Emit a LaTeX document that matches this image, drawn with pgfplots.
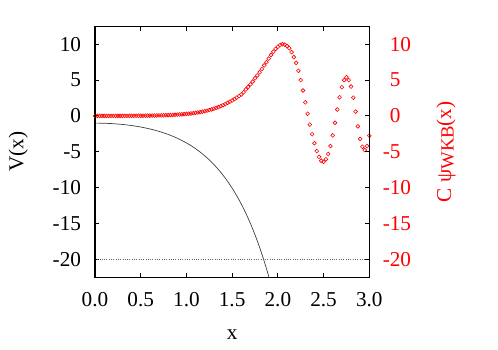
\documentclass[border=0pt]{standalone}
\usepackage{fontspec}
\setmainfont{Liberation Serif}
\usepackage{graphicx}
\usepackage{pgfplots}
\pgfplotsset{compat=1.18}

% potential V(x)
\pgfplotstableread{
x V
0.00 -1.000
0.05 -1.005
0.10 -1.020
0.15 -1.045
0.20 -1.081
0.25 -1.128
0.30 -1.185
0.35 -1.255
0.40 -1.337
0.45 -1.433
0.50 -1.543
0.55 -1.669
0.60 -1.811
0.65 -1.971
0.70 -2.151
0.75 -2.352
0.80 -2.577
0.85 -2.828
0.90 -3.107
0.95 -3.418
1.00 -3.762
1.05 -4.144
1.10 -4.568
1.15 -5.037
1.20 -5.557
1.25 -6.132
1.30 -6.769
1.35 -7.473
1.40 -8.253
1.45 -9.115
1.50 -10.068
1.55 -11.122
1.60 -12.287
1.65 -13.575
1.70 -14.999
1.75 -16.573
1.80 -18.313
1.85 -20.236
1.90 -22.362
1.95 -24.710
}\potential

% C psi_WKB(x), read off the red circles
\pgfplotstableread{
x psi
0.000 0.004
0.025 0.005
0.050 0.005
0.075 0.005
0.100 0.006
0.125 0.006
0.150 0.007
0.175 0.008
0.200 0.009
0.225 0.010
0.250 0.011
0.275 0.012
0.300 0.013
0.325 0.014
0.350 0.016
0.375 0.018
0.400 0.020
0.425 0.022
0.450 0.025
0.475 0.028
0.500 0.031
0.525 0.035
0.550 0.039
0.575 0.043
0.600 0.049
0.625 0.054
0.650 0.060
0.675 0.068
0.700 0.076
0.725 0.085
0.750 0.094
0.775 0.105
0.800 0.118
0.825 0.131
0.850 0.147
0.875 0.164
0.900 0.183
0.925 0.203
0.950 0.227
0.975 0.253
1.000 0.282
1.025 0.314
1.050 0.350
1.075 0.390
1.100 0.434
1.125 0.482
1.150 0.537
1.175 0.598
1.200 0.664
1.225 0.738
1.250 0.819
1.275 0.909
1.300 1.01
1.325 1.12
1.350 1.23
1.375 1.36
1.400 1.50
1.425 1.66
1.450 1.82
1.475 1.99
1.500 2.16
1.525 2.35
1.550 2.55
1.575 2.77
1.600 3.00
1.625 3.30
1.650 3.70
1.675 4.05
1.700 4.40
1.725 4.80
1.750 5.25
1.775 5.65
1.800 6.10
1.825 6.55
1.850 7.05
1.875 7.50
1.900 8.00
1.925 8.50
1.950 8.95
1.975 9.35
2.000 9.65
2.025 9.90
2.050 10.00
2.075 9.95
2.100 9.75
2.125 9.45
2.150 8.90
2.175 8.20
2.200 7.40
2.225 6.30
2.250 5.00
2.275 3.55
2.300 1.90
2.325 0.30
2.350 -1.20
2.375 -2.55
2.400 -3.80
2.425 -4.90
2.450 -5.70
2.475 -6.25
2.500 -6.40
2.525 -6.05
2.550 -5.30
2.575 -4.20
2.600 -2.70
2.625 -0.95
2.650 0.90
2.675 2.60
2.700 4.00
2.725 5.00
2.750 5.40
2.775 5.00
2.800 4.10
2.825 2.55
2.850 0.60
2.875 -1.45
2.900 -3.20
2.925 -4.30
2.950 -4.75
2.975 -4.20
3.000 -2.75
}\wkb

\begin{document}
\fontsize{10.6}{12.7}\selectfont
\begin{tikzpicture}
\useasboundingbox (-47.5pt,-35.85pt) rectangle (201.5pt,138.65pt);
\pgfplotsset{
  common/.style={
    scale only axis,
    width=137.15pt, height=125.5pt,
    xmin=0, xmax=3, ymin=-22.5, ymax=12.5,
    ytick={-20,-15,-10,-5,0,5,10},
    tick align=inside,
    major tick length=2.2pt,
    tick style={black, line width=0.5pt},
    axis line style={line width=0.5pt},
  }
}
\begin{axis}[
    common,
    xtick={0,0.5,1,1.5,2,2.5,3},
    xticklabels={0.0,0.5,1.0,1.5,2.0,2.5,3.0},
    xtick pos=both, xticklabel pos=bottom,
    ytick pos=left,
    yticklabels={-20,-15,-10,-5,0,5,10},
    xticklabel style={anchor=center, yshift=-11.35pt},
    yticklabel style={anchor=east, inner sep=0pt, xshift=-6.8pt},
    xlabel={x}, ylabel={\rotatebox{90}{V(x)}},
    every axis x label/.style={at={(axis description cs:0.5,-0.227)}, anchor=center},
    every axis y label/.style={at={(axis description cs:-0.2793,0.5)}, anchor=center},
]
\addplot[black!75, line width=0.35pt, smooth] table[x=x, y=V] {\potential};
\addplot[black!60, line width=0.45pt, dash pattern=on 0.45pt off 0.7pt] coordinates {(0,-20) (3,-20)};
\addplot[red, only marks, mark=o, mark size=0.95pt, mark options={line width=0.3pt}] table[x=x, y=psi] {\wkb};
\end{axis}
\begin{axis}[
    common,
    hide x axis,
    ytick pos=right, yticklabel pos=right,
    yticklabels={\llap{-}20,\llap{-}15,\llap{-}10,\llap{-}5,0,5,10},
    yticklabel style={anchor=west, inner sep=0pt, xshift=10.1pt, text=red},
    ylabel={C ψ{\fontsize{9.3}{9.3}\selectfont\raisebox{-1.3pt}{WKB}}(x)},
    every axis y label/.style={at={(axis description cs:1.2796,0.5)}, anchor=center, rotate=90, text=red},
]
\end{axis}
\end{tikzpicture}
\end{document}
